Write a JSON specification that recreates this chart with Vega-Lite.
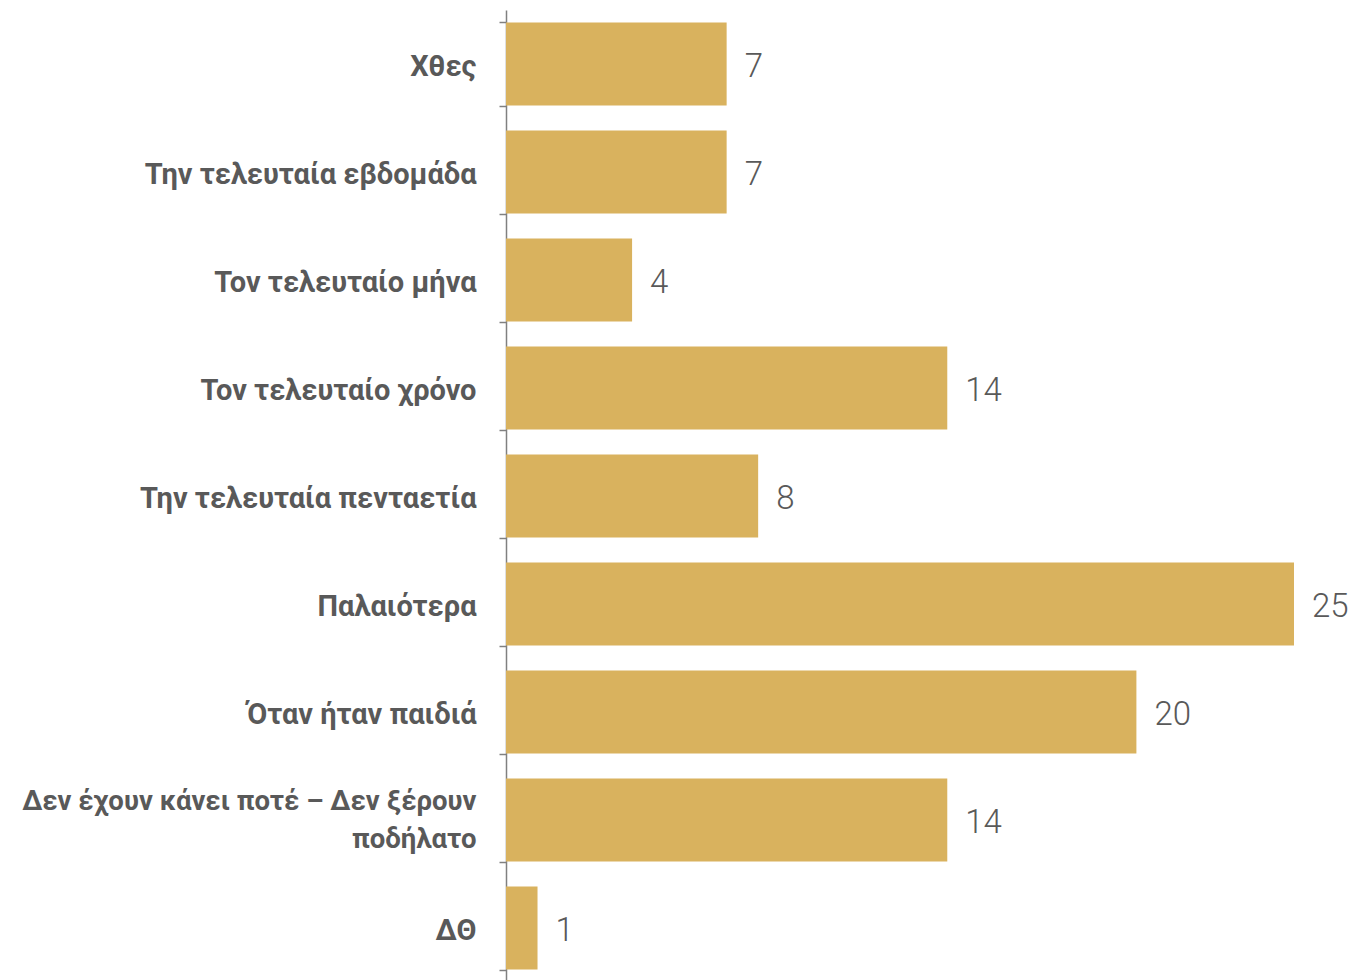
{
  "$schema": "https://vega.github.io/schema/vega-lite/v6.json",
  "autosize": {"type": "none"},
  "width": 788,
  "height": 972,
  "padding": {"left": 506, "top": 10, "right": 57, "bottom": 0},
  "background": "white",
  "config": {"view": {"stroke": null}},
  "data": {
    "values": [
      {"category": "Χθες", "value": 7},
      {"category": "Την τελευταία εβδομάδα", "value": 7},
      {"category": "Τον τελευταίο μήνα", "value": 4},
      {"category": "Τον τελευταίο χρόνο", "value": 14},
      {"category": "Την τελευταία πενταετία", "value": 8},
      {"category": "Παλαιότερα", "value": 25},
      {"category": "Όταν ήταν παιδιά", "value": 20},
      {"category": "Δεν έχουν κάνει ποτέ – Δεν ξέρουν ποδήλατο", "value": 14},
      {"category": "ΔΘ", "value": 1}
    ]
  },
  "encoding": {
    "y": {
      "field": "category",
      "type": "nominal",
      "sort": null,
      "scale": {"paddingInner": 0.23, "paddingOuter": 0.115},
      "axis": {
        "title": null,
        "tickBand": "extent",
        "domainColor": "#808080",
        "domainWidth": 1.5,
        "tickColor": "#808080",
        "tickWidth": 1.5,
        "tickSize": 7,
        "labelPadding": 23,
        "labelFont": "Roboto",
        "labelFontWeight": "bold",
        "labelFontSize": {"condition": {"test": "datum.value == 'Δεν έχουν κάνει ποτέ – Δεν ξέρουν ποδήλατο'", "value": 27.5}, "value": 29},
        "labelColor": "#595959",
        "labelLimit": 600,
        "labelLineHeight": 38,
        "labelExpr": "datum.value == 'Δεν έχουν κάνει ποτέ – Δεν ξέρουν ποδήλατο' ? ['Δεν έχουν κάνει ποτέ – Δεν ξέρουν', 'ποδήλατο'] : datum.value",
        "labelOffset": {"condition": {"test": "datum.value == 'Δεν έχουν κάνει ποτέ – Δεν ξέρουν ποδήλατο'", "value": -19}, "value": 2}
      }
    },
    "x": {
      "field": "value",
      "type": "quantitative",
      "scale": {"domain": [0, 25], "nice": false},
      "axis": null
    }
  },
  "layer": [
    {"mark": {"type": "bar", "color": "#D9B25E"}},
    {
      "mark": {"type": "text", "align": "left", "baseline": "middle", "dx": 18, "dy": 3, "font": "Roboto", "fontWeight": 300, "fontSize": 33, "color": "#595959"},
      "encoding": {"text": {"field": "value", "type": "quantitative"}}
    }
  ]
}
